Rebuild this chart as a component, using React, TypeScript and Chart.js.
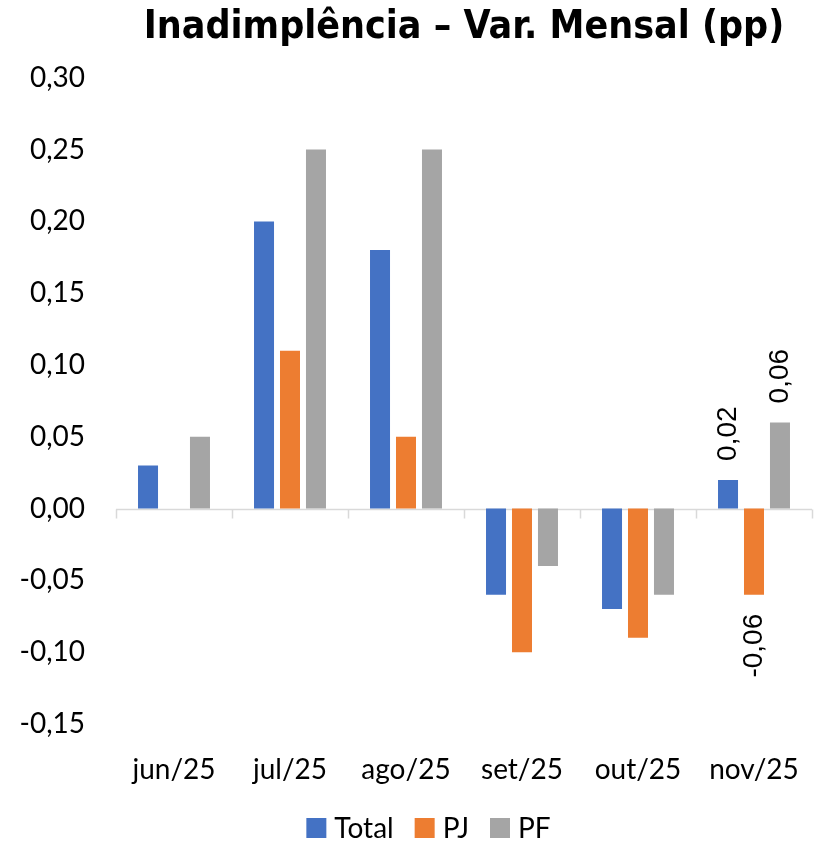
import React, { useEffect, useRef } from "react";
import { Chart, registerables } from "chart.js";

Chart.register(...registerables);

const categories = ["jun/25", "jul/25", "ago/25", "set/25", "out/25", "nov/25"];
const totalValues = [0.03, 0.2, 0.18, -0.06, -0.07, 0.02];
const pjValues = [0, 0.11, 0.05, -0.1, -0.09, -0.06];
const pfValues = [0.05, 0.25, 0.25, -0.04, -0.06, 0.06];
const seriesNames = ["Total", "PJ", "PF"];
const seriesColors = ["#4472C4", "#ED7D31", "#A5A5A5"];
const labeledCategory = "nov/25";
const yMin = -0.15;
const yMax = 0.3;
const yStep = 0.05;
const titleText = "Inadimplência – Var. Mensal (pp)";

const fmt = (v: number) => v.toFixed(2).replace(".", ",");
const BODY_FONT = "Lato, sans-serif";

const zeroAxisPlugin = {
  id: "zeroAxis",
  beforeDatasetsDraw(chart: any) {
    const { ctx, chartArea, scales } = chart;
    const y0 = Math.round(scales.y.getPixelForValue(0)) + 0.5;
    ctx.save();
    ctx.strokeStyle = "#d9d9d9";
    ctx.lineWidth = 1.5;
    ctx.beginPath();
    ctx.moveTo(chartArea.left, y0);
    ctx.lineTo(chartArea.right, y0);
    const n = categories.length;
    const w = (chartArea.right - chartArea.left) / n;
    for (let i = 0; i <= n; i++) {
      const x = Math.round(chartArea.left + i * w) + 0.5;
      ctx.moveTo(x, y0);
      ctx.lineTo(x, y0 + 9);
    }
    ctx.stroke();
    ctx.restore();
  },
};

const dataLabelPlugin = {
  id: "rotLabels",
  afterDatasetsDraw(chart: any) {
    const { ctx } = chart;
    const idx = categories.indexOf(labeledCategory);
    ctx.save();
    ctx.fillStyle = "#000";
    ctx.font = "28px 'Liberation Sans', Arial, sans-serif";
    ctx.textBaseline = "middle";
    chart.data.datasets.forEach((ds: any, di: number) => {
      const meta = chart.getDatasetMeta(di);
      const el = meta.data[idx];
      const v = ds.data[idx];
      if (!el || v === 0) return;
      ctx.save();
      if (v > 0) {
        ctx.translate(el.x, el.y - 19);
        ctx.rotate(-Math.PI / 2);
        ctx.textAlign = "left";
      } else {
        ctx.translate(el.x, el.y + 19);
        ctx.rotate(-Math.PI / 2);
        ctx.textAlign = "right";
      }
      ctx.fillText(fmt(v), 0, 0);
      ctx.restore();
    });
    ctx.restore();
  },
};

const customLegendPlugin = {
  id: "customLegend",
  afterDraw(chart: any) {
    const { ctx, width, height } = chart;
    const box = 20;
    const gapText = 8;
    const gapItem = 21;
    ctx.save();
    ctx.font = `28px ${BODY_FONT}`;
    ctx.textBaseline = "middle";
    ctx.textAlign = "left";
    const items = chart.data.datasets.map((ds: any) => ({
      label: ds.label,
      color: ds.backgroundColor,
      w: ctx.measureText(ds.label).width,
    }));
    const total =
      items.reduce((s: number, it: any) => s + box + gapText + it.w, 0) + gapItem * (items.length - 1);
    let x = width / 2 + 15 - total / 2;
    const cy = height - 14;
    items.forEach((it: any) => {
      ctx.fillStyle = it.color;
      ctx.fillRect(x, cy - box / 2, box, box);
      ctx.fillStyle = "#000";
      ctx.fillText(it.label, x + box + gapText, cy + 1);
      x += box + gapText + it.w + gapItem;
    });
    ctx.restore();
  },
};

export default function App() {
  const ref = useRef<HTMLCanvasElement | null>(null);
  useEffect(() => {
    if (!ref.current) return;
    const seriesData = [totalValues, pjValues, pfValues];
    const chart = new Chart(ref.current, {
      type: "bar",
      data: {
        labels: categories,
        datasets: seriesNames.map((name, i) => ({
          label: name,
          data: seriesData[i],
          backgroundColor: seriesColors[i],
          borderWidth: 0,
          categoryPercentage: 0.672,
          barPercentage: 0.77,
        })),
      },
      options: {
        animation: false,
        responsive: true,
        maintainAspectRatio: false,
        layout: { padding: { left: 0, right: 15, top: 4, bottom: 32 } },
        plugins: {
          title: {
            display: true,
            text: titleText,
            fullSize: false,
            color: "#000",
            font: { family: "'DejaVu Sans Condensed', 'DejaVu Sans', sans-serif", weight: "bold", size: 39 },
            padding: { top: 0, bottom: 27 },
          },
          legend: { display: false },
          tooltip: { enabled: false },
        },
        scales: {
          x: {
            grid: { display: false },
            border: { display: false },
            afterFit(scale: any) {
              scale.height = 86;
            },
            ticks: {
              color: "#000",
              padding: 21,
              font: { family: BODY_FONT, size: 28 },
              maxRotation: 0,
            },
          },
          y: {
            min: yMin,
            max: yMax,
            grid: { display: false },
            border: { display: false },
            afterFit(scale: any) {
              scale.width = 116;
            },
            ticks: {
              stepSize: yStep,
              color: "#000",
              padding: 23,
              font: { family: BODY_FONT, size: 28 },
              callback: (v: any) => fmt(Number(v)),
            },
          },
        },
      },
      plugins: [zeroAxisPlugin, dataLabelPlugin, customLegendPlugin],
    });
    return () => chart.destroy();
  }, []);
  return (
    <div style={{ position: "fixed", left: 0, top: 0, width: 827, height: 842, background: "#fff" }}>
      <canvas ref={ref} />
    </div>
  );
}
